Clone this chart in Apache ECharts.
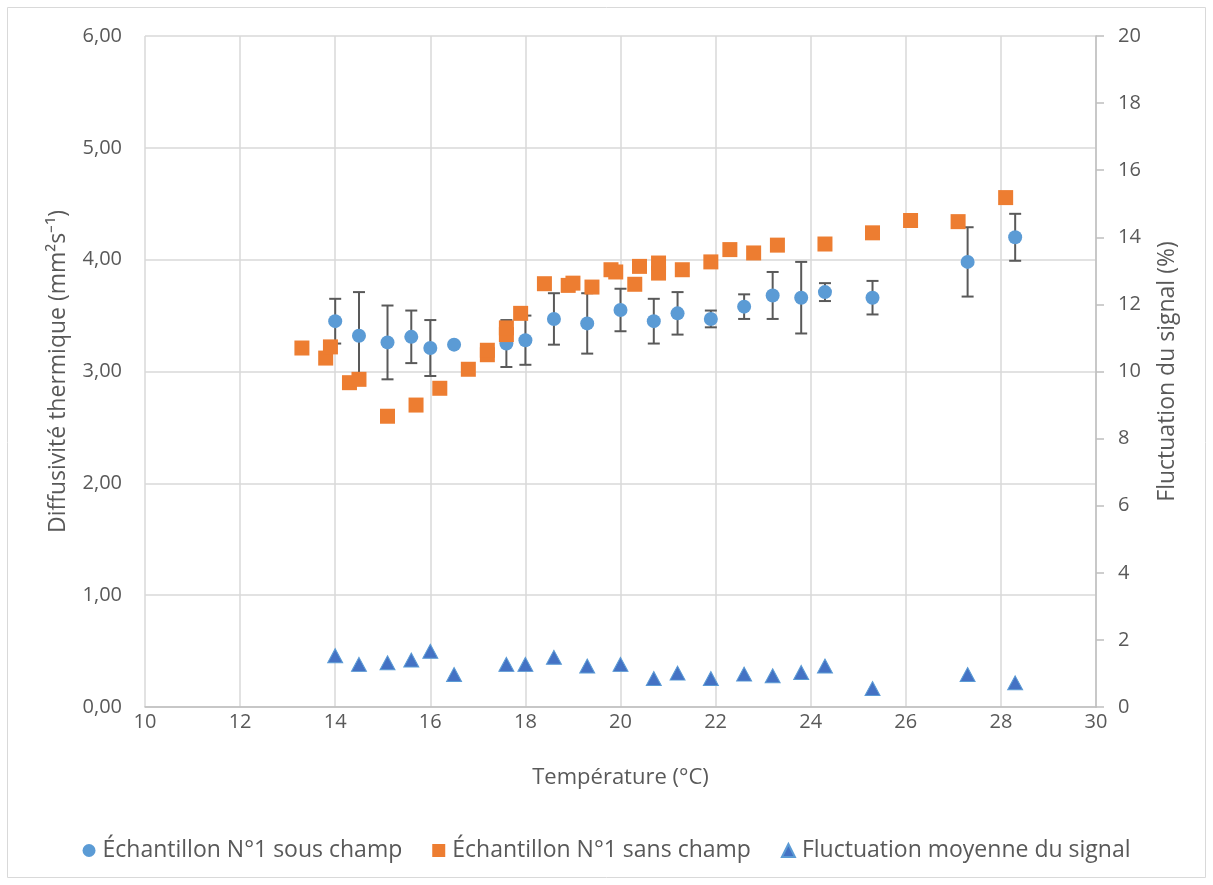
<!DOCTYPE html>
<html><head><meta charset="utf-8">
<script src="https://cdn.jsdelivr.net/npm/echarts@6/dist/echarts.min.js"></script>
<style>html,body{margin:0;padding:0;background:#fff}#c{width:1213px;height:885px}</style>
</head><body><div id="c"></div>
<script>
// Échantillon N°1 sous champ (with error bars) and fluctuation share x
const tempSous = [14.0,14.5,15.1,15.6,16.0,16.5,17.6,18.0,18.6,19.3,20.0,20.7,21.2,21.9,22.6,23.2,23.8,24.3,25.3,27.3,28.3];
const diffSous = [3.45,3.32,3.26,3.31,3.21,3.24,3.25,3.28,3.47,3.43,3.55,3.45,3.52,3.47,3.58,3.68,3.66,3.71,3.66,3.98,4.20];
const errSous  = [0.20,0.39,0.33,0.235,0.25,0,0.21,0.22,0.23,0.27,0.19,0.20,0.19,0.075,0.11,0.21,0.32,0.08,0.15,0.31,0.21];
const fluct    = [1.53,1.27,1.32,1.40,1.66,0.97,1.27,1.27,1.48,1.22,1.27,0.85,1.01,0.85,0.98,0.93,1.03,1.22,0.55,0.97,0.72];
// Échantillon N°1 sans champ
const tempSans = [13.3,13.8,13.9,14.3,14.5,15.1,15.7,16.2,16.8,17.2,17.2,17.6,17.6,17.9,18.4,18.9,19.0,19.4,19.8,19.9,20.3,20.4,20.8,20.8,21.3,21.9,22.3,22.8,23.3,24.3,25.3,26.1,27.1,28.1];
const diffSans = [3.21,3.12,3.22,2.90,2.93,2.60,2.70,2.85,3.02,3.15,3.19,3.33,3.39,3.52,3.785,3.77,3.79,3.755,3.91,3.89,3.78,3.94,3.88,3.97,3.91,3.98,4.09,4.06,4.13,4.14,4.24,4.35,4.34,4.555];
const seriesNames = ['Échantillon N°1 sous champ','Échantillon N°1 sans champ','Fluctuation moyenne du signal'];

const font = '"Open Sans", "Liberation Sans", sans-serif';
const txt = '#595959';
const chart = echarts.init(document.getElementById('c'), null, {renderer:'canvas'});

const sousData = tempSous.map((x,i)=>[x, diffSous[i]]);
const errData = tempSous.map((x,i)=>[x, diffSous[i]-errSous[i], diffSous[i]+errSous[i]]).filter((d,i)=>errSous[i]>0);
const sansData = tempSans.map((x,i)=>[x, diffSans[i]]);
const fluctData = tempSous.map((x,i)=>[x, fluct[i]]);

chart.setOption({
  animation:false,
  textStyle:{fontFamily:font},
  graphic:[{type:'rect', shape:{x:7.5,y:7.5,width:1198,height:870}, style:{fill:'none', stroke:'#d9d9d9', lineWidth:1}, z:-10}],
  grid:{left:145, top:36, right:117, bottom:178},
  legend:{
    bottom:18, left:'center', itemGap:30, itemWidth:13, itemHeight:13,
    textStyle:{color:txt, fontSize:23, fontFamily:font, padding:[0,0,0,2]},
    data:[{name:seriesNames[0], icon:'circle'},{name:seriesNames[1], icon:'rect'},{name:seriesNames[2], icon:'triangle'}]
  },
  xAxis:{
    type:'value', min:10, max:30, interval:2,
    name:'Température (°C)', nameLocation:'middle', nameGap:60,
    nameTextStyle:{color:txt, fontSize:22, fontFamily:font},
    axisLine:{show:true, lineStyle:{color:'#bfbfbf', width:1.5}},
    axisTick:{show:false},
    axisLabel:{color:txt, fontSize:20, margin:5, fontFamily:font},
    splitLine:{show:true, lineStyle:{color:'#d9d9d9', width:1.5}}
  },
  yAxis:[{
    type:'value', min:0, max:6, interval:1,
    name:'Diffusivité thermique (mm²s⁻¹)', nameLocation:'middle', nameGap:75,
    nameTextStyle:{color:txt, fontSize:23, fontFamily:font},
    axisLine:{show:false}, axisTick:{show:false},
    axisLabel:{color:txt, fontSize:20, margin:23, fontFamily:font, formatter:v=>v.toFixed(2).replace('.',',')},
    splitLine:{show:true, lineStyle:{color:'#d9d9d9', width:1.5}}
  },{
    type:'value', min:0, max:20, interval:2, position:'right',
    name:'Fluctuation du signal (%)', nameLocation:'middle', nameGap:60, nameRotate:90,
    nameTextStyle:{color:txt, fontSize:23, fontFamily:font},
    axisLine:{show:true, lineStyle:{color:'#bfbfbf', width:1.5}},
    axisTick:{show:true, length:8, lineStyle:{color:'#bfbfbf', width:1.5}},
    axisLabel:{color:txt, fontSize:20, margin:22, fontFamily:font},
    splitLine:{show:false}
  }],
  series:[
    {
      type:'custom', name:'err', yAxisIndex:0, z:1, silent:true,
      data:errData, encode:{x:0, y:[1,2]},
      renderItem:function(params, api){
        const lo = api.coord([api.value(0), api.value(1)]);
        const hi = api.coord([api.value(0), api.value(2)]);
        const w = 6;
        const st = {stroke:'#595959', lineWidth:2};
        return {type:'group', children:[
          {type:'line', shape:{x1:lo[0],y1:lo[1],x2:hi[0],y2:hi[1]}, style:st},
          {type:'line', shape:{x1:lo[0]-w,y1:lo[1],x2:lo[0]+w,y2:lo[1]}, style:st},
          {type:'line', shape:{x1:hi[0]-w,y1:hi[1],x2:hi[0]+w,y2:hi[1]}, style:st}
        ]};
      }
    },
    {type:'scatter', name:seriesNames[0], yAxisIndex:0, z:2, symbol:'circle', symbolSize:14,
     itemStyle:{color:'#5B9BD5', opacity:1}, data:sousData},
    {type:'scatter', name:seriesNames[1], yAxisIndex:0, z:3, symbol:'rect', symbolSize:15,
     itemStyle:{color:'#ED7D31', opacity:1}, data:sansData},
    {type:'scatter', name:seriesNames[2], yAxisIndex:1, z:4, symbol:'triangle', symbolSize:[15,14],
     itemStyle:{color:'#4472C4', borderColor:'#5B9BD5', borderWidth:1, opacity:1}, data:fluctData}
  ]
});
</script></body></html>
